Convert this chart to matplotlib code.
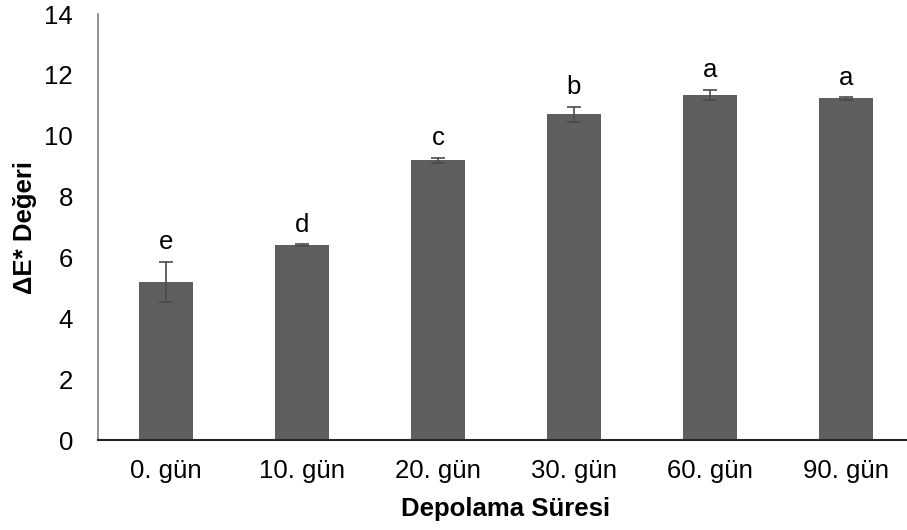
import matplotlib
matplotlib.use("Agg")
import matplotlib.pyplot as plt
import numpy as np

categories = ["0. gün", "10. gün", "20. gün", "30. gün", "60. gün", "90. gün"]
values = [5.19, 6.40, 9.19, 10.71, 11.34, 11.23]
errors = [0.67, 0.04, 0.08, 0.25, 0.17, 0.04]
letters = ["e", "d", "c", "b", "a", "a"]
yticks = [0, 2, 4, 6, 8, 10, 12, 14]

plt.rcParams['font.family'] = ['Liberation Sans', 'DejaVu Sans']

W, H = 907, 530
fig = plt.figure(figsize=(W / 100, H / 100), dpi=100)
ax_left, ax_bottom = 98, 90
ax_w, ax_h = 816, 426
ax = fig.add_axes([ax_left / W, ax_bottom / H, ax_w / W, ax_h / H])

x = np.arange(len(categories))
ax.bar(x, values, width=0.4, color="#5f5f5f", zorder=2)
ax.errorbar(x, values, yerr=errors, fmt="none", ecolor="#4a4a4a",
            elinewidth=1.2, capsize=4.8, capthick=1.2, zorder=3)

for xi, v, e, l in zip(x, values, errors, letters):
    ax.annotate(l, xy=(xi, v + e), xytext=(0, 9), textcoords="offset points",
                ha="center", va="baseline", fontsize=18.5, color="black")

ax.set_xlim(-0.5, len(categories) - 0.5)
ax.set_ylim(0, 14)
ax.set_yticks(yticks)
ax.set_yticklabels([str(t) for t in yticks])
ax.set_xticks(x)
ax.set_xticklabels(categories)
ax.tick_params(axis="both", length=0, labelsize=18.5, colors="black")
ax.tick_params(axis="y", pad=18)
ax.tick_params(axis="x", pad=14)

for s in ["top", "right"]:
    ax.spines[s].set_visible(False)
ax.spines["left"].set_color("#7f7f7f")
ax.spines["left"].set_linewidth(1.2)
ax.spines["bottom"].set_color("#262626")
ax.spines["bottom"].set_linewidth(1.5)

ax.set_xlabel("Depolama Süresi", fontsize=18.5, fontweight="bold", labelpad=10)
ax.set_ylabel("ΔE* Değeri", fontsize=18.5, fontweight="bold", labelpad=5)

fig.savefig("out.png", dpi=100)
